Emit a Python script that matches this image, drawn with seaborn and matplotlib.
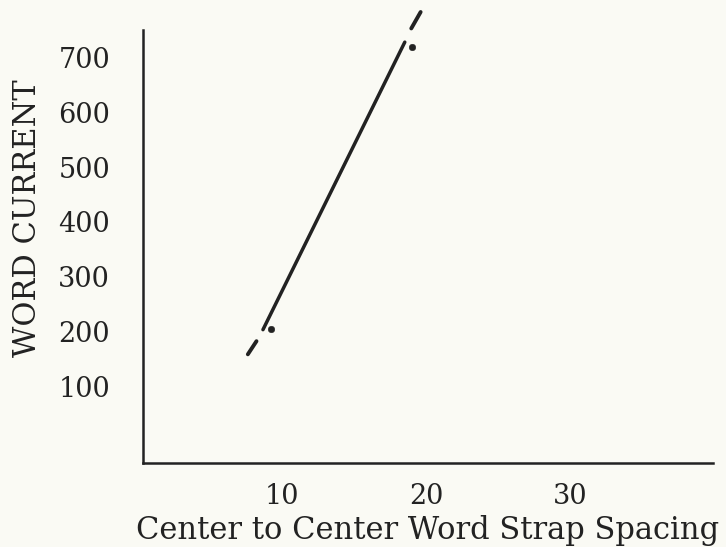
import matplotlib
matplotlib.use('Agg')
import matplotlib.pyplot as plt
import seaborn as sns
import pandas as pd

# measured points
spacing = [9.2, 19.0]
current = [205, 720]

# drawn line (solid part) and its dashed extensions
line_x = [8.65, 18.5]
line_y = [203, 728]
dash_lo_x = [7.6, 8.2]
dash_lo_y = [158, 182]
dash_hi_x = [18.95, 19.6]
dash_hi_y = [753, 783]

x_ticks = [10, 20, 30]
y_ticks = [100, 200, 300, 400, 500, 600, 700]

sns.set_style('white')
plt.rcParams['font.family'] = ['DejaVu Serif']
ink = '#222222'
bg = '#fafaf4'

fig = plt.figure(figsize=(7.26, 5.47), dpi=100, facecolor=bg)
ax = fig.add_axes([0.1966, 0.154, 0.7854, 0.791])
ax.set_facecolor(bg)

df = pd.DataFrame({'x': spacing, 'y': current})
sns.scatterplot(data=df, x='x', y='y', ax=ax, color=ink, s=22, edgecolor=ink, clip_on=False)
sns.lineplot(x=line_x, y=line_y, ax=ax, color=ink, lw=2.5)
for xs, ys in [(dash_lo_x, dash_lo_y), (dash_hi_x, dash_hi_y)]:
    l = ax.plot(xs, ys, color=ink, lw=2.8, solid_capstyle='round')[0]
    l.set_clip_on(False)

ax.set_xlim(0.3, 39.9)
ax.set_ylim(-40, 750)
ax.set_xticks(x_ticks)
ax.set_yticks(y_ticks)
ax.tick_params(axis='both', direction='out', length=9.5, width=2, color=ink,
               labelsize=19.5, labelcolor=ink)
ax.tick_params(axis='y', pad=14)
ax.tick_params(axis='x', pad=5)
for s in ['top', 'right']:
    ax.spines[s].set_visible(False)
for s in ['left', 'bottom']:
    ax.spines[s].set_color(ink)
    ax.spines[s].set_linewidth(1.8)

ax.set_xlabel('Center to Center Word Strap Spacing', fontsize=22, color=ink, labelpad=4)
ax.set_ylabel('WORD CURRENT', fontsize=22, color=ink)
ax.yaxis.set_label_coords(-0.175, 0.566)

fig.savefig('out.png', dpi=100, facecolor=bg)
